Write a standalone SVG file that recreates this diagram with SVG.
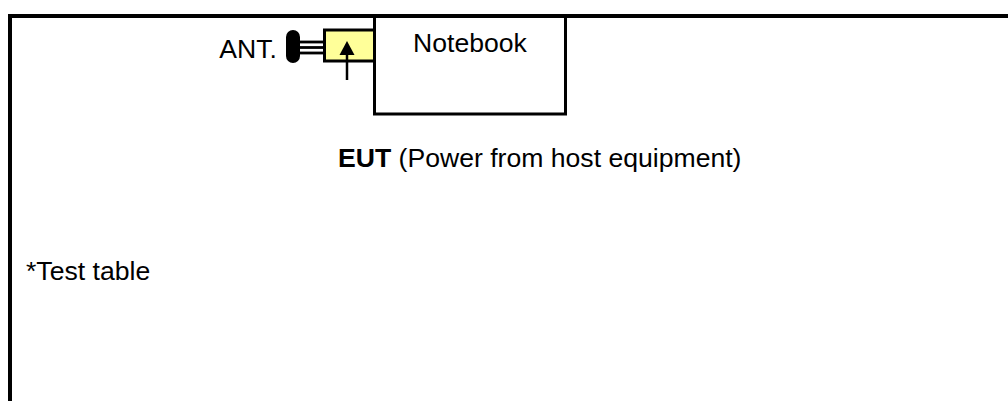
<svg xmlns="http://www.w3.org/2000/svg" width="1008" height="401" viewBox="0 0 1008 401">
<style>
text{font-family:"Liberation Sans",Arial,sans-serif;font-size:26.6px;fill:#000}
.ln{stroke:#000;fill:none}
</style>
<rect width="1008" height="401" fill="#fff"/>
<g id="table">
<path class="ln" d="M10,401 V16 H1008" stroke-width="4"/>
<text x="26" y="280">*Test table</text>
</g>
<g id="notebook">
<path class="ln" d="M374.5,16 V114 H565.5 V16" stroke-width="3"/>
<text x="470" y="52" text-anchor="middle">Notebook</text>
</g>
<g id="antenna">
<text x="277" y="58" text-anchor="end">ANT.</text>
<g fill="#000">
<circle cx="293" cy="37" r="7"/>
<circle cx="292.5" cy="46.5" r="6.5"/>
<circle cx="293" cy="56" r="7"/>
<rect x="286" y="37" width="14" height="19"/>
</g>
<g class="ln" stroke-width="2.8">
<line x1="298" y1="42" x2="325" y2="42"/>
<line x1="298" y1="47.5" x2="325" y2="47.5"/>
<line x1="298" y1="53" x2="325" y2="53"/>
</g>
<rect x="324.5" y="30" width="50" height="31" fill="#ffff99" stroke="#000" stroke-width="3"/>
<line class="ln" x1="347" y1="54" x2="347" y2="80" stroke-width="2.5"/>
<polygon points="347,41 339.5,55 354.5,55" fill="#000"/>
</g>
<g id="eut">
<text x="338" y="167"><tspan font-weight="bold">EUT</tspan> (Power from host equipment)</text>
</g>
</svg>
